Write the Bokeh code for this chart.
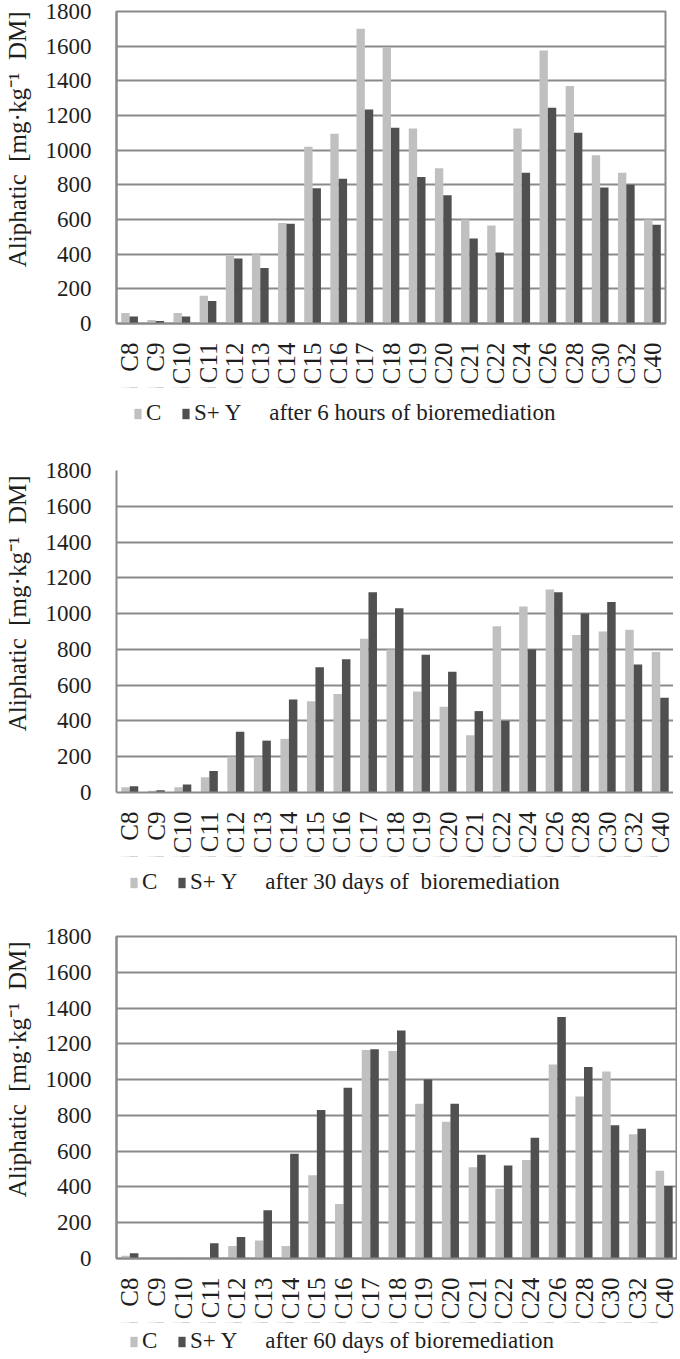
from bokeh.plotting import figure
from bokeh.models import FactorRange, Range1d, Legend, LegendItem, ColumnDataSource, FixedTicker
from bokeh.layouts import column
from bokeh.embed import file_html
from bokeh.resources import INLINE
from bokeh.transform import dodge
import math

categories = ["C8", "C9", "C10", "C11", "C12", "C13", "C14", "C15", "C16", "C17", "C18",
              "C19", "C20", "C21", "C22", "C24", "C26", "C28", "C30", "C32", "C40"]

c_6h = [60, 20, 60, 160, 390, 400, 580, 1020, 1095, 1700, 1595,
        1125, 895, 600, 565, 1125, 1575, 1370, 970, 870, 600]
sy_6h = [40, 15, 40, 130, 375, 320, 575, 780, 835, 1235, 1130,
         845, 740, 490, 410, 870, 1245, 1100, 785, 800, 570]

c_30d = [30, 10, 30, 85, 200, 200, 300, 510, 550, 860, 800,
         565, 480, 320, 930, 1040, 1135, 880, 900, 910, 785]
sy_30d = [35, 12, 45, 120, 340, 290, 520, 700, 745, 1120, 1030,
          770, 675, 455, 400, 800, 1120, 1000, 1065, 715, 530]

c_60d = [15, 5, 5, 3, 70, 100, 70, 465, 305, 1165, 1160,
         865, 765, 510, 390, 550, 1085, 905, 1045, 695, 490]
sy_60d = [30, 3, 3, 85, 120, 270, 585, 830, 955, 1170, 1275,
          1000, 865, 580, 520, 675, 1350, 1070, 745, 725, 405]

series_labels = ["C", "S+ Y"]
captions = ["after 6 hours of bioremediation",
            "after 30 days of  bioremediation",
            "after 60 days of bioremediation"]
y_ticks = [0, 200, 400, 600, 800, 1000, 1200, 1400, 1600, 1800]
NB = "\u00a0"
y_label = NB * 9 + "Aliphatic" + NB * 2 + "[mg\u00b7kg\u207b\u00b9" + NB * 2 + "DM]"

FONT = "Liberation Serif"
LIGHT = "#c0c0c0"
DARK = "#505050"
GRID = "#8a8a8a"
TEXT = "#1e1e1e"
FIG_W = 666


def make_panel(src, left, fw, top, fh, bottom, outline=True):
    p = figure(x_range=FactorRange(*categories, range_padding=0),
               y_range=Range1d(0, 1800),
               frame_width=fw, frame_height=fh,
               output_backend="svg", toolbar_location=None,
               min_border_left=left, min_border_right=FIG_W - left - fw,
               min_border_top=top, min_border_bottom=bottom,
               background_fill_color="white", border_fill_color="white")
    p.vbar(x=dodge("cat", -0.16, range=p.x_range), top="c", width=0.32,
           source=src, fill_color=LIGHT, line_color=None)
    p.vbar(x=dodge("cat", 0.16, range=p.x_range), top="sy", width=0.32,
           source=src, fill_color=DARK, line_color=None)

    p.xgrid.grid_line_color = None
    p.ygrid.grid_line_color = GRID
    p.ygrid.grid_line_width = 2
    p.yaxis.ticker = FixedTicker(ticks=y_ticks)
    p.outline_line_color = GRID if outline else None
    p.outline_line_width = 2

    for ax in (p.xaxis[0], p.yaxis[0]):
        ax.axis_line_color = GRID
        ax.axis_line_width = 2
        ax.major_tick_line_color = None
        ax.minor_tick_line_color = None
        ax.major_label_text_font = FONT
        ax.major_label_text_color = TEXT
    p.yaxis.major_label_text_font_size = "23px"
    p.xaxis.major_label_text_font_size = "25px"
    p.xaxis.major_label_orientation = math.pi / 2
    p.xaxis.major_label_standoff = 13
    p.yaxis.major_label_standoff = 19
    p.yaxis.axis_label = y_label
    p.yaxis.axis_label_text_font = FONT
    p.yaxis.axis_label_text_font_size = "25px"
    p.yaxis.axis_label_text_font_style = "normal"
    p.yaxis.axis_label_text_color = TEXT
    p.yaxis.axis_label_standoff = 12
    return p


def make_legend(src, caption, height, x0, y0):
    # legend strip: bars are drawn from the same data but lie far outside the visible y-range
    q = figure(x_range=FactorRange(*categories, range_padding=0),
               y_range=Range1d(-3000, -2999),
               width=FIG_W, height=height,
               output_backend="svg", toolbar_location=None,
               min_border=0, x_axis_location=None, y_axis_location=None,
               background_fill_color="white", border_fill_color="white")
    q.grid.visible = False
    q.outline_line_color = None
    r1 = q.vbar(x=dodge("cat", -0.16, range=q.x_range), top="c", width=0.32,
                source=src, fill_color=LIGHT, line_color=None)
    r2 = q.vbar(x=dodge("cat", 0.16, range=q.x_range), top="sy", width=0.32,
                source=src, fill_color=DARK, line_color=None)
    r3 = q.vbar(x="cat", top="c", width=0.32, source=src,
                fill_alpha=0, line_alpha=0)
    legend = Legend(items=[LegendItem(label=series_labels[0], renderers=[r1]),
                           LegendItem(label=series_labels[1], renderers=[r2]),
                           LegendItem(label=caption, renderers=[r3])],
                    orientation="horizontal", location=(x0, y0),
                    label_text_font=FONT, label_text_font_size="23px",
                    label_text_color=TEXT,
                    glyph_width=9, glyph_height=13, spacing=15,
                    label_standoff=4, padding=2, margin=0,
                    border_line_color=None, background_fill_alpha=0)
    q.add_layout(legend, "center")
    return q


s1 = ColumnDataSource(dict(cat=categories, c=c_6h, sy=sy_6h))
s2 = ColumnDataSource(dict(cat=categories, c=c_30d, sy=sy_30d))
s3 = ColumnDataSource(dict(cat=categories, c=c_60d, sy=sy_60d))

p1 = make_panel(s1, 113, 549, 11, 312, 60)
l1 = make_legend(s1, captions[0], 46, 17, 7)
p2 = make_panel(s2, 109, 557, 37, 322, 60, outline=False)
l2 = make_legend(s2, captions[1], 46, 13, 7)
p3 = make_panel(s3, 105, 561, 34, 322, 58)
l3 = make_legend(s3, captions[2], 35, 13, 3)
layout = column(p1, l1, p2, l2, p3, l3, spacing=0)

open("out.html", "w").write(file_html(layout, INLINE))
